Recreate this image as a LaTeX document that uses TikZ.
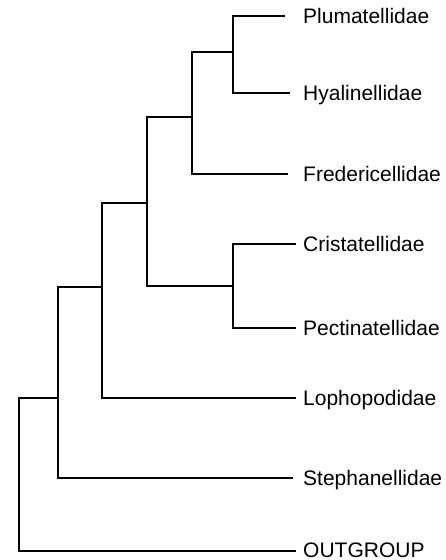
\documentclass[tikz,border=0pt]{standalone}
\usepackage{fontspec}
\setmainfont{Liberation Sans}
\begin{document}
\begin{tikzpicture}[x=1pt,y=-1pt,
  branch/.style={draw=black,line width=2pt,line join=miter,line cap=rect},
  taxon/.style={anchor=base west,inner sep=0pt,font=\fontsize{21}{24}\selectfont}]
\useasboundingbox (0,0) rectangle (446,560);
% leaf tips
\coordinate (tP) at (284,16);
\coordinate (tH) at (289,93);
\coordinate (tF) at (287,174);
\coordinate (tC) at (295,244);
\coordinate (tPe) at (295,328);
\coordinate (tL) at (295,398);
\coordinate (tS) at (292,478);
\coordinate (tO) at (295,551);
% internal nodes
\coordinate (n1) at (233,52);
\coordinate (n2) at (192,117);
\coordinate (n3) at (233,286);
\coordinate (n4) at (147,203);
\coordinate (n5) at (102,287);
\coordinate (n6) at (58,398);
\coordinate (root) at (19,475);
% labels
\node[taxon] (lP) at (303,23.5) {Plumatellidae};
\node[taxon] (lH) at (303,100.5) {Hyalinellidae};
\node[taxon] (lF) at (303,181.5) {Fredericellidae};
\node[taxon] (lC) at (303,251.5) {Cristatellidae};
\node[taxon] (lPe) at (303,335.5) {Pectinatellidae};
\node[taxon] (lL) at (303,405.5) {Lophopodidae};
\node[taxon] (lS) at (303,485.5) {Stephanellidae};
\node[taxon] (lO) at (303,557) {OUTGROUP};
% branches
\draw[branch] (n1) |- (tP);
\draw[branch] (n1) |- (tH);
\draw[branch] (n2) |- (n1);
\draw[branch] (n2) |- (tF);
\draw[branch] (n3) |- (tC);
\draw[branch] (n3) |- (tPe);
\draw[branch] (n4) |- (n2);
\draw[branch] (n4) |- (n3);
\draw[branch] (n5) |- (n4);
\draw[branch] (n5) |- (tL);
\draw[branch] (n6) |- (n5);
\draw[branch] (n6) |- (tS);
\draw[branch,line width=1.6pt] (root) |- (n6);
\draw[branch,line width=1.6pt] (root) |- (tO);
\end{tikzpicture}
\end{document}
